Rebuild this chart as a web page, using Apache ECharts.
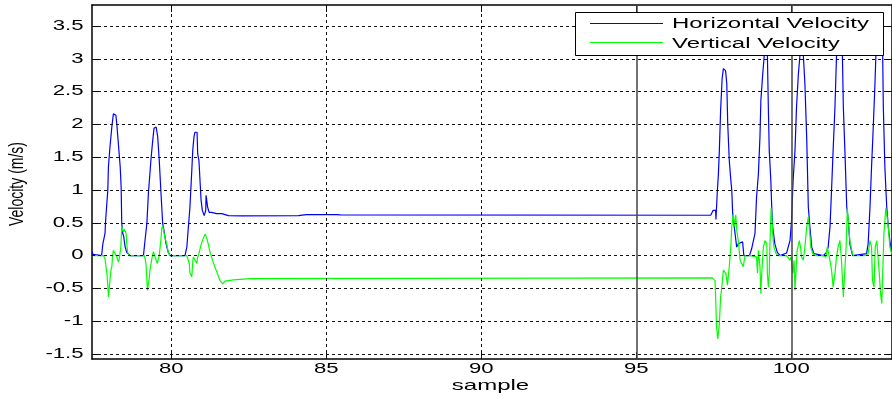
<!DOCTYPE html>
<html>
<head>
<meta charset="utf-8">
<script src="https://cdn.jsdelivr.net/npm/echarts@6/dist/echarts.min.js"></script>
<style>
  html, body { margin: 0; padding: 0; background: #fff; }
  #chart { width: 892px; height: 399px; }
</style>
</head>
<body>
<div id="chart"></div>
<script>
// Axis ticks and labels
const xTicks = [80, 85, 90, 95, 100];
const yTicks = [-1.5, -1, -0.5, 0, 0.5, 1, 1.5, 2, 2.5, 3, 3.5];
const yTickLabels = ['-1.5', '-1', '-0.5', '0', '0.5', '1', '1.5', '2', '2.5', '3', '3.5'];
// Samples marked with solid vertical lines
const markedSamples = [95, 100];

const seriesNames = ['Horizontal Velocity', 'Vertical Velocity'];
const xAxisName = 'sample';
const yAxisName = 'Velocity (m/s)';

// Horizontal velocity trace
const hSample = [
  77.44, 77.47, 77.51, 77.75, 77.79, 77.86, 77.88, 77.95, 77.97, 78.02, 78.08, 78.13, 78.16, 78.21,
  78.24, 78.29, 78.35, 78.38, 78.40, 78.43, 78.46, 78.51, 78.56, 78.67,
  79.10, 79.15, 79.21, 79.26, 79.34, 79.39, 79.44, 79.51, 79.56, 79.61, 79.66, 79.72, 79.76, 79.83,
  79.90, 79.96,
  80.44, 80.50, 80.55, 80.60, 80.66, 80.69, 80.73, 80.76, 80.83, 80.85, 80.89, 80.93, 80.96, 81.00,
  81.06, 81.11, 81.12, 81.17, 81.22, 81.30, 81.46, 81.63, 81.84, 82.27, 84.10, 84.35, 85.35, 85.45,
  97.40, 97.48, 97.56, 97.57, 97.59, 97.61, 97.65, 97.68, 97.72, 97.77, 97.81, 97.88, 97.92, 97.95,
  98.00, 98.05, 98.08, 98.11, 98.16, 98.22, 98.24, 98.29, 98.43, 98.47, 98.65,
  98.72, 98.83, 98.88, 98.94, 98.99, 99.02, 99.08, 99.12, 99.17, 99.23, 99.26, 99.29, 99.34, 99.37,
  99.40, 99.47, 99.55, 99.64,
  99.85, 99.90, 99.96, 100.01, 100.06, 100.12, 100.17, 100.23, 100.28, 100.33, 100.39, 100.44,
  100.50, 100.55, 100.60, 100.66, 100.73, 101.03,
  101.14, 101.19, 101.25, 101.30, 101.35, 101.41, 101.46, 101.55, 101.65, 101.68, 101.73, 101.79,
  101.84, 101.89, 101.98,
  102.43, 102.48, 102.54, 102.59, 102.65, 102.70, 102.73, 102.85, 102.95, 102.97, 103.02, 103.08,
  103.13, 103.18, 103.24
];
const hVelocity = [
  0.06, 0.02, 0, 0, 0.18, 0.34, 0.54, 1.00, 1.35, 1.66, 1.96, 2.16, 2.17, 2.14,
  2.01, 1.71, 1.35, 1.05, 0.49, 0.34, 0.30, 0.13, 0.05, 0,
  0, 0.23, 0.49, 0.95, 1.45, 1.71, 1.94, 1.96, 1.81, 1.45, 1.00, 0.49, 0.39, 0.18,
  0.05, 0,
  0, 0.13, 0.44, 0.74, 1.30, 1.60, 1.81, 1.88, 1.88, 1.55, 1.45, 1.10, 0.84, 0.69,
  0.61, 0.69, 0.92, 0.74, 0.66, 0.66, 0.64, 0.64, 0.61, 0.605, 0.61, 0.625, 0.625, 0.62,
  0.615, 0.69, 0.69, 0.55, 0.55, 0.94, 1.25, 1.60, 2.21, 2.70, 2.85, 2.82, 2.62, 2.01,
  1.45, 1.15, 1.00, 0.64, 0.44, 0.44, 0.13, 0.18, 0.21, 0, 0,
  0.10, 0.34, 0.89, 1.25, 1.81, 2.37, 2.77, 3.00, 3.35, 3.05, 2.27, 1.60, 1.15, 0.74,
  0.44, 0.18, 0.05, 0,
  0.04, 0.13, 0.23, 0.54, 1.15, 1.60, 2.27, 2.77, 3.05, 3.40, 3.05, 2.62,
  1.76, 0.74, 0.44, 0.13, 0.03, 0,
  0.05, 0.13, 0.44, 1.00, 1.60, 2.27, 3.05, 3.45, 3.05, 2.27, 1.60, 0.74,
  0.54, 0.18, 0,
  0.03, 0.18, 0.74, 1.35, 2.01, 2.62, 3.05, 3.40, 3.05, 2.27, 1.35, 0.74,
  0.44, 0.23, 0.05
];

// Vertical velocity trace
const vSample = [
  77.44, 77.81, 77.86, 77.89, 77.92, 77.95, 77.97, 77.99, 78.02, 78.05, 78.08, 78.10, 78.13, 78.18,
  78.24, 78.29, 78.32, 78.37, 78.40, 78.43, 78.45, 78.48, 78.54, 78.56, 78.59, 78.64,
  79.13, 79.15, 79.18, 79.23, 79.26, 79.29, 79.31, 79.37, 79.42, 79.47, 79.51, 79.55, 79.58, 79.61,
  79.66, 79.69, 79.72, 79.76, 79.79, 79.85, 79.90, 79.96,
  80.50, 80.55, 80.58, 80.60, 80.66, 80.69, 80.71, 80.76, 80.82, 80.85, 80.89, 80.95, 81.01, 81.09,
  81.14, 81.19, 81.25, 81.35, 81.46, 81.57, 81.66, 81.73, 82.00, 82.54,
  97.46, 97.54, 97.57, 97.59, 97.63, 97.66, 97.68, 97.72, 97.76, 97.81, 97.86, 97.89, 97.94, 97.97,
  98.00, 98.05, 98.08, 98.13, 98.16, 98.21, 98.24, 98.29, 98.35, 98.40, 98.45, 98.51, 98.67,
  98.88, 98.91, 98.94, 98.99, 99.02, 99.04, 99.10, 99.15, 99.21, 99.23, 99.26, 99.29, 99.31, 99.35,
  99.37, 99.40, 99.44, 99.51, 99.58,
  99.85, 99.90, 99.96, 99.99, 100.05, 100.09, 100.12, 100.15, 100.19, 100.26, 100.30, 100.33,
  100.39, 100.44, 100.50, 100.55, 100.58, 100.63, 100.69, 100.82, 101.03,
  101.12, 101.16, 101.23, 101.30, 101.35, 101.41, 101.46, 101.51, 101.57, 101.62, 101.68, 101.71,
  101.77, 101.81, 101.84, 101.89, 101.95, 102.00, 102.38,
  102.43, 102.48, 102.54, 102.59, 102.62, 102.67, 102.71, 102.76, 102.81, 102.84, 102.88, 102.92,
  102.95, 102.99, 103.05, 103.08, 103.13, 103.18, 103.24
];
const vVelocity = [
  0, 0, -0.05, -0.07, -0.27, -0.45, -0.63, -0.53, -0.38, -0.22, -0.17, -0.02, 0.08, 0.11,
  -0.02, -0.10, -0.05, 0.13, 0.44, 0.47, 0.36, 0.40, 0.34, 0.18, 0.05, 0,
  0, -0.02, -0.12, -0.53, -0.55, -0.33, -0.22, -0.05, 0.06, 0.04, -0.07, -0.12, -0.05, 0.00,
  0.23, 0.41, 0.46, 0.36, 0.28, 0.18, 0.05, 0,
  0, -0.01, -0.12, -0.27, -0.32, -0.10, -0.02, -0.02, -0.12, -0.02, 0.03, 0.15, 0.24, 0.33,
  0.27, 0.18, 0.05, -0.10, -0.24, -0.38, -0.43, -0.39, -0.37, -0.35,
  -0.34, -0.38, -0.78, -1.09, -1.27, -1.29, -1.04, -0.63, -0.48, -0.22, -0.20, -0.27, -0.45, -0.48,
  -0.17, 0.13, 0.44, 0.64, 0.44, 0.62, 0.39, 0.23, -0.07, -0.12, -0.17, 0, 0,
  -0.02, -0.27, 0.08, -0.17, -0.58, -0.33, 0.13, 0.23, 0.18, -0.27, -0.48, -0.27, 0.13, 0.72,
  0.64, 0.34, 0.13, 0.03, 0,
  0, -0.02, -0.07, -0.02, -0.27, -0.07, -0.53, -0.27, 0.08, 0.23, 0.13, -0.02,
  -0.07, 0.13, 0.44, 0.59, 0.44, 0.13, 0.03, 0, 0,
  -0.02, 0.13, -0.02, -0.22, -0.48, -0.27, -0.02, 0.13, 0.23, -0.07, -0.63, -0.38,
  0.13, 0.72, 0.54, 0.23, 0.08, 0, 0,
  -0.02, 0.03, 0.23, 0.13, -0.38, -0.48, 0.13, 0.23, 0.23, -0.27, -0.58, -0.73,
  -0.27, 0.34, 0.72, 0.64, 0.44, 0.13, 0.03
];

const X_MIN = 77.44, X_MAX = 103.25;
const Y_MIN = -1.576, Y_MAX = 3.82;
const FONT = '"Liberation Sans", Arial, Helvetica, sans-serif';
const BLUE = '#0000ff';
const GREEN = '#00ff00';

const pairs = (xs, ys) => xs.map((x, i) => [x, ys[i]]);

const dashed = { color: '#111', width: 1, type: [3, 3] };
const solid = { color: '#444', width: 1.5, type: 'solid' };

const gridMarks = [
  ...yTicks.map(v => ({ yAxis: v, lineStyle: dashed })),
  ...xTicks.map(v => ({ xAxis: v, lineStyle: markedSamples.includes(v) ? solid : dashed }))
];

function axisBase(extra) {
  return Object.assign({
    type: 'value',
    axisLine: { show: true, onZero: false, lineStyle: { color: '#000', width: 1.5 } },
    axisLabel: { show: false },
    splitLine: { show: false }
  }, extra);
}

const tickStyle = ticks => ({ show: true, inside: true, length: 7, customValues: ticks, lineStyle: { color: '#000' } });

const chart = echarts.init(document.getElementById('chart'), null, { renderer: 'canvas' });

chart.setOption({
  animation: false,
  backgroundColor: '#fff',
  grid: { left: 92, top: 5, right: 0, bottom: 40, containLabel: false },
  xAxis: [
    axisBase({ min: X_MIN, max: X_MAX, position: 'bottom', axisTick: tickStyle(xTicks) }),
    axisBase({ min: X_MIN, max: X_MAX, position: 'top', axisTick: tickStyle(xTicks) })
  ],
  yAxis: [
    axisBase({ min: Y_MIN, max: Y_MAX, position: 'left', axisTick: tickStyle(yTicks) }),
    axisBase({ min: Y_MIN, max: Y_MAX, position: 'right', axisTick: tickStyle(yTicks) })
  ],
  series: [
    {
      // grid lines drawn underneath the traces
      type: 'line', data: [], z: 1, silent: true,
      markLine: { silent: true, symbol: 'none', label: { show: false }, data: gridMarks, animation: false }
    },
    {
      name: seriesNames[0], type: 'line', data: pairs(hSample, hVelocity),
      showSymbol: false, z: 3, clip: true,
      lineStyle: { color: BLUE, width: 1.2 }, itemStyle: { color: BLUE }
    },
    {
      name: seriesNames[1], type: 'line', data: pairs(vSample, vVelocity),
      showSymbol: false, z: 3, clip: true,
      lineStyle: { color: GREEN, width: 1.2 }, itemStyle: { color: GREEN }
    }
  ]
});

// Tick labels, axis titles and the legend box, drawn in the wide face used by the figure
function stretchedText(text, x, y, align, size, transform) {
  return Object.assign({
    type: 'text', x: x, y: y, z: 120, silent: true,
    style: { text: text, fontSize: size, fontFamily: FONT, fill: '#000',
             align: align, verticalAlign: 'middle' }
  }, transform);
}

const graphics = [];
xTicks.forEach(v => {
  const px = chart.convertToPixel({ xAxisIndex: 0 }, v);
  graphics.push(stretchedText(String(v), px, 369.5, 'center', 14, { scaleX: 1.58 }));
});
yTicks.forEach((v, i) => {
  const py = chart.convertToPixel({ yAxisIndex: 0 }, v);
  graphics.push(stretchedText(yTickLabels[i], 83.5, py, 'right', 14, { scaleX: 1.58 }));
});
graphics.push(stretchedText(xAxisName, 490.5, 386, 'center', 15, { scaleX: 1.6 }));
graphics.push(stretchedText(yAxisName, 18, 184, 'center', 14, { rotation: Math.PI / 2, scaleY: 1.4 }));

// legend
graphics.push({ type: 'rect', z: 110, silent: true,
  shape: { x: 575.5, y: 12.5, width: 308, height: 43 },
  style: { fill: '#fff', stroke: '#000', lineWidth: 1 } });
graphics.push({ type: 'line', z: 111, silent: true,
  shape: { x1: 590, y1: 23.5, x2: 663, y2: 23.5 }, style: { stroke: BLUE, lineWidth: 1 } });
graphics.push({ type: 'line', z: 111, silent: true,
  shape: { x1: 590, y1: 42.5, x2: 663, y2: 42.5 }, style: { stroke: GREEN, lineWidth: 1 } });
graphics.push(stretchedText(seriesNames[0], 672, 24.2, 'left', 14, { scaleX: 1.71 }));
graphics.push(stretchedText(seriesNames[1], 672, 43.8, 'left', 14, { scaleX: 1.71 }));

chart.setOption({ graphic: graphics });
</script>
</body>
</html>
